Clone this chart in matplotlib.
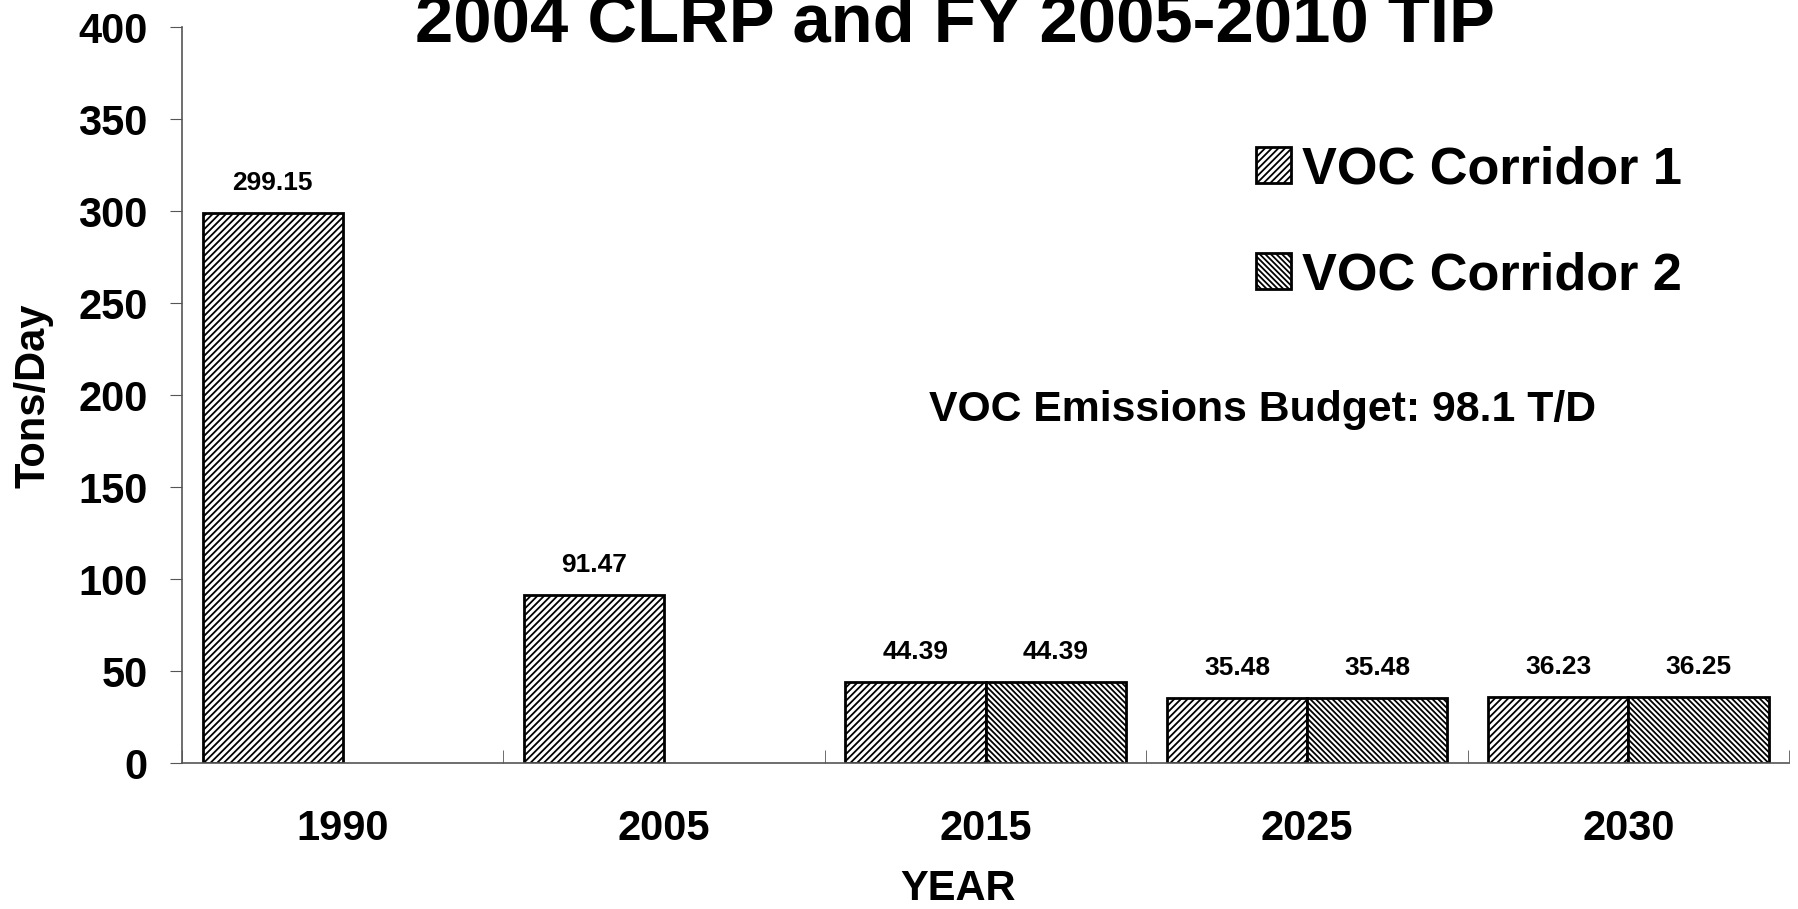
import numpy as np
import matplotlib.pyplot as plt

plt.rcParams['font.family'] = ['Liberation Sans', 'DejaVu Sans']
plt.rcParams['font.weight'] = 'bold'
plt.rcParams['hatch.linewidth'] = 1.3
plt.rcParams['hatch.color'] = '#333333'

years = ['1990', '2005', '2015', '2025', '2030']
corridor1 = [299.15, 91.47, 44.39, 35.48, 36.23]
corridor2 = [None, None, 44.39, 35.48, 36.25]
labels1 = ['299.15', '91.47', '44.39', '35.48', '36.23']
labels2 = [None, None, '44.39', '35.48', '36.25']

fig = plt.figure(figsize=(17.99, 9.09), dpi=100)
ax = fig.add_axes([0.1012, 0.1601, 0.8933, 0.8097])

x = np.arange(len(years))
w = 0.436

ax.bar(x - w/2, corridor1, w, color='white', edgecolor='black', linewidth=2,
       hatch='/////', label='VOC Corridor 1')
x2 = [xi for xi, v in zip(x, corridor2) if v is not None]
v2 = [v for v in corridor2 if v is not None]
ax.bar(np.array(x2) + w/2, v2, w, color='white', edgecolor='black', linewidth=2,
       hatch='\\\\\\\\\\\\', label='VOC Corridor 2')

for xi, v, lab in zip(x, corridor1, labels1):
    ax.annotate(lab, (xi - w/2, v), xytext=(0, 30), textcoords='offset pixels',
                ha='center', va='center', fontsize=19, fontweight='bold')
for xi, v, lab in zip(x, corridor2, labels2):
    if v is not None:
        ax.annotate(lab, (xi + w/2, v), xytext=(0, 30), textcoords='offset pixels',
                    ha='center', va='center', fontsize=19, fontweight='bold')

ax.set_xlim(-0.5, len(years) - 0.5)
ax.set_ylim(0, 400)
ax.set_yticks(np.arange(0, 401, 50))
ax.tick_params(axis='y', labelsize=30, length=8.6, pad=16, color='#555555')
ax.set_xticks(x)
ax.set_xticklabels(years)
ax.tick_params(axis='x', which='major', labelsize=30, length=0, pad=33)
ax.set_xticks(np.arange(-0.5, len(years)), minor=True)
ax.tick_params(axis='x', which='minor', direction='in', length=9.4, color='#555555')

for s in ['top', 'right']:
    ax.spines[s].set_visible(False)
for s in ['left', 'bottom']:
    ax.spines[s].set_color('#555555')
    ax.spines[s].set_linewidth(1.2)

ax.set_ylabel('Tons/Day', fontsize=30, fontweight='bold')
ax.yaxis.set_label_coords(-0.08, 0.5)
fig.text(958/1799, 1 - 889/909, 'YEAR', ha='center', va='center', fontsize=30, fontweight='bold')

fig.text(955/1799, 1 - 41.7/909, '2004 CLRP and FY 2005-2010 TIP', ha='center',
         va='baseline', fontsize=49.5, fontweight='bold')

fig.text(929/1799, 1 - 410/909, 'VOC Emissions Budget: 98.1 T/D', ha='left',
         va='center', fontsize=30.8, fontweight='bold')

leg = ax.legend(loc='center left', bbox_to_anchor=(1256/1799, 1 - 223/909),
                bbox_transform=fig.transFigure, frameon=False, fontsize=37.6,
                handlelength=0.67, handleheight=0.67, handletextpad=0.22,
                labelspacing=1.09, borderpad=0, borderaxespad=0)

fig.savefig('out.png', dpi=100)
